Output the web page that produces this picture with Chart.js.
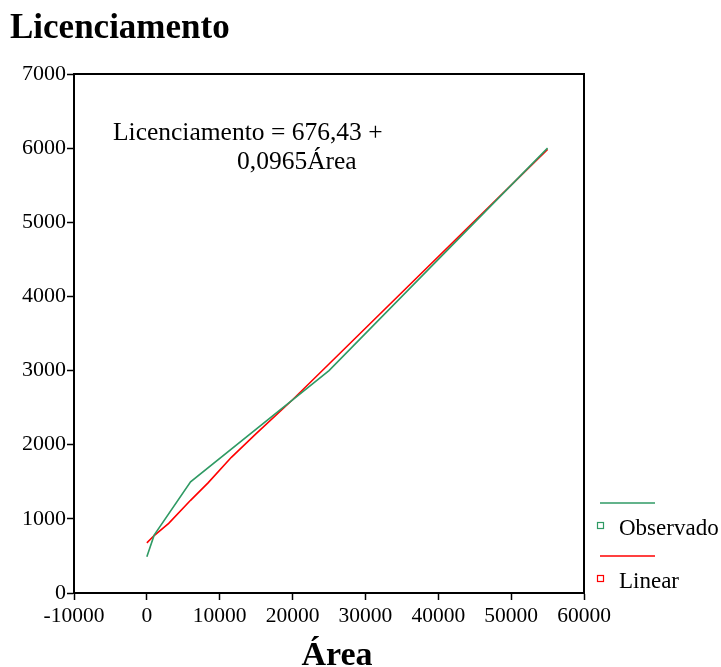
<!DOCTYPE html>
<html lang="pt">
<head>
  <meta charset="UTF-8" />
  <title>Licenciamento</title>
  <script src="https://cdn.jsdelivr.net/npm/chart.js"></script>
  <style>
    html, body { margin: 0; padding: 0; background: #fff; }
    .wrap { position: relative; width: 721px; height: 667px; }
  </style>
</head>
<body>
  <div class="wrap">
    <canvas id="chart" width="721" height="667"></canvas>
  </div>

  <script>
    // Observed values (Área -> Licenciamento)
    const obsArea = [0, 1000, 6000, 25000, 55000];
    const obsLic = [490, 780, 1500, 3000, 6000];

    // Linear fit values
    const fitArea = [0, 1000, 3000, 6000, 8400, 11600, 15000, 20000, 25000, 55000];
    const fitLic = [676, 775, 940, 1250, 1485, 1830, 2150, 2606, 3089, 5984];

    const xTicks = [-10000, 0, 10000, 20000, 30000, 40000, 50000, 60000];
    const yTicks = [0, 1000, 2000, 3000, 4000, 5000, 6000, 7000];

    const seriesNames = ['Observado', 'Linear'];
    const seriesColors = ['#2f9a64', '#ff0000'];
    const equation = ['Licenciamento = 676,43 +', '0,0965Área'];

    const serif = "'Liberation Serif', 'Times New Roman', serif";

    const toPoints = (xs, ys) => xs.map((x, i) => ({ x: x, y: ys[i] }));

    // box, titles, equation and legend
    const decor = {
      id: 'decor',
      afterDraw(chart) {
        const { ctx, chartArea } = chart;
        ctx.save();
        ctx.strokeStyle = '#000';
        ctx.lineWidth = 2;
        ctx.beginPath();
        ctx.moveTo(chartArea.left, chartArea.top);
        ctx.lineTo(chartArea.right, chartArea.top);
        ctx.lineTo(chartArea.right, chartArea.bottom);
        ctx.stroke();

        ctx.fillStyle = '#000';
        ctx.textBaseline = 'alphabetic';
        ctx.font = 'bold 35px ' + serif;
        ctx.fillText('Licenciamento', 10, 38);

        ctx.font = 'bold 34px ' + serif;
        ctx.textAlign = 'center';
        ctx.fillText('Área', 337, 665);
        ctx.textAlign = 'left';

        ctx.font = '25.5px ' + serif;
        ctx.fillText(equation[0], 113, 140);
        ctx.fillText(equation[1], 237, 169);

        // legend
        ctx.font = '23px ' + serif;
        seriesNames.forEach((name, i) => {
          const y0 = 503 + i * 53;
          ctx.strokeStyle = seriesColors[i];
          ctx.lineWidth = 1.5;
          ctx.beginPath();
          ctx.moveTo(600, y0);
          ctx.lineTo(655, y0);
          ctx.stroke();
          ctx.lineWidth = 1.2;
          ctx.strokeRect(597.5, y0 + 19.5, 6, 6);
          ctx.fillStyle = '#000';
          ctx.fillText(name, 619, y0 + 32);
        });
        ctx.restore();
      }
    };

    new Chart(document.getElementById('chart').getContext('2d'), {
      type: 'scatter',
      data: {
        datasets: [
          {
            label: seriesNames[0],
            data: toPoints(obsArea, obsLic),
            showLine: true,
            borderColor: seriesColors[0],
            borderWidth: 1.6,
            pointRadius: 0,
            tension: 0
          },
          {
            label: seriesNames[1],
            data: toPoints(fitArea, fitLic),
            showLine: true,
            borderColor: seriesColors[1],
            borderWidth: 1.6,
            pointRadius: 0,
            tension: 0
          }
        ]
      },
      options: {
        responsive: false,
        animation: false,
        layout: { padding: { left: 0, right: 137, top: 74, bottom: 0 } },
        plugins: {
          legend: { display: false },
          tooltip: { enabled: false }
        },
        scales: {
          x: {
            type: 'linear',
            min: xTicks[0],
            max: xTicks[xTicks.length - 1],
            afterBuildTicks: axis => { axis.ticks = xTicks.map(v => ({ value: v })); },
            afterFit: axis => { axis.height = 74; },
            grid: { drawOnChartArea: false, drawTicks: true, tickLength: 7, tickColor: '#000', tickWidth: 1.5 },
            border: { color: '#000', width: 2 },
            ticks: { color: '#000', font: { family: serif, size: 21.5 }, padding: 3, maxRotation: 0, callback: v => String(v) }
          },
          y: {
            type: 'linear',
            min: yTicks[0],
            max: yTicks[yTicks.length - 1],
            afterBuildTicks: axis => { axis.ticks = yTicks.map(v => ({ value: v })); },
            afterFit: axis => { axis.width = 74; },
            grid: { drawOnChartArea: false, drawTicks: true, tickLength: 7, tickColor: '#000', tickWidth: 1.5 },
            border: { color: '#000', width: 2 },
            ticks: { color: '#000', font: { family: serif, size: 22 }, padding: 1, callback: v => String(v) }
          }
        }
      },
      plugins: [decor]
    });
  </script>
</body>
</html>
